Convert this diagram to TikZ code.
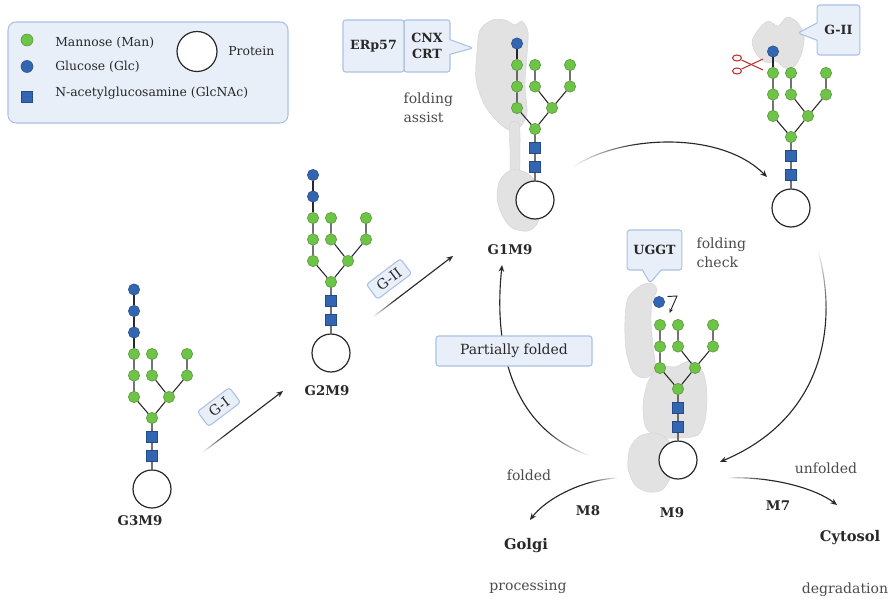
\documentclass[tikz,border=0pt]{standalone}
\usepackage{fontspec}
\setmainfont{DejaVu Serif}
\usetikzlibrary{arrows.meta,positioning,shapes.callouts,fadings}
\definecolor{verdeman}{RGB}{110,196,70}
\definecolor{azulglc}{RGB}{50,102,178}
\definecolor{fondocaja}{RGB}{233,239,249}
\definecolor{bordecaja}{RGB}{170,193,228}
\definecolor{tinta}{RGB}{40,40,40}
\definecolor{tintagris}{RGB}{75,75,75}
\definecolor{gristejido}{RGB}{226,226,226}
\definecolor{rojocorte}{RGB}{190,50,50}
% fade-in over the first third of a path
\pgfdeclarehorizontalshading{rampa}{100bp}{color(0bp)=(black); color(25bp)=(black); color(42bp)=(white); color(100bp)=(white)}
\tikzfading[name=entrada,shading=rampa]
\tikzset{
  manosa/.style={circle,fill=verdeman,draw=verdeman!75!black,line width=0.4pt,minimum size=8.5pt,inner sep=0pt},
  glucosa/.style={manosa,fill=azulglc,draw=azulglc!75!black},
  nag/.style={rectangle,fill=azulglc,draw=azulglc!75!black,line width=0.4pt,minimum size=8pt,inner sep=0pt},
  proteina/.style={circle,draw=tinta,line width=0.9pt,fill=white,minimum size=28.5pt,inner sep=0pt},
  enlace/.style={tinta,line width=0.8pt},
  tejido/.style={fill=gristejido,draw=gray!35,line width=0.3pt},
  nombre/.style={font=\bfseries\fontsize{10}{12}\selectfont,text=tinta,inner sep=1pt},
  nota/.style={font=\fontsize{10.5}{14}\selectfont,text=tintagris,align=left,inner sep=1pt},
  clave/.style={font=\fontsize{9.3}{11}\selectfont,text=tinta,anchor=west,inner sep=0pt},
  caja/.style={rectangle,rounded corners=2pt,fill=fondocaja,draw=bordecaja,line width=0.8pt,
    align=center,font=\bfseries\fontsize{9.5}{12}\selectfont,text=tinta,inner sep=2pt},
  burbuja/.style={caja,rectangle callout},
  etiqueta/.style={caja,font=\fontsize{10.5}{12}\selectfont,inner sep=3pt},
  flecha/.style={-{Stealth[length=5pt,width=4.2pt]},tinta,line width=0.85pt},
}
% glycan on a protein: #1 prefix, #2 protein centre, #3 glucoses on the A arm
\newcommand{\glycan}[3]{%
  \begin{scope}[shift={#2}]
    \node[proteina] (#1-p) at (0,0) {};
    \node[nag] (#1-n1) at (0,-33) {};
    \node[nag] (#1-n2) at (0,-52) {};
    \node[manosa] (#1-c) at (0,-71) {};
    \node[manosa] (#1-l1) at (-18,-92) {};
    \node[manosa] (#1-l2) at (-18,-113.5) {};
    \node[manosa,alias=#1-g0] (#1-l3) at (-18,-135) {};
    \node[manosa] (#1-r) at (17,-92) {};
    \node[manosa] (#1-ra1) at (0,-113.5) {};
    \node[manosa] (#1-ra2) at (0,-135) {};
    \node[manosa] (#1-rb1) at (35,-113.5) {};
    \node[manosa] (#1-rb2) at (35,-135) {};
    \ifnum#3>0
      \foreach \k [remember=\k as \j (initially 0)] in {1,...,#3} {
        \node[glucosa] (#1-g\k) at (-18,{-135-21.5*\k}) {};
        \draw[enlace] (#1-g\j) -- (#1-g\k);
      }
    \fi
  \end{scope}
  \draw[enlace] (#1-p) -- (#1-n1) -- (#1-n2) -- (#1-c) -- (#1-l1) -- (#1-l2) -- (#1-l3);
  \draw[enlace] (#1-c) -- (#1-r) -- (#1-ra1) -- (#1-ra2);
  \draw[enlace] (#1-r) -- (#1-rb1) -- (#1-rb2);
}

\begin{document}
\begin{tikzpicture}[x=0.75pt,y=-0.75pt]
  \useasboundingbox[fill=white] (0,0) rectangle (895,599);

  % legend
  \node[caja,rounded corners=6pt,minimum width=210pt,minimum height=75.75pt] (ley) at (148,72.5) {};
  \node[manosa,minimum size=9pt] (k-man) at (27,40) {};
  \node[glucosa,minimum size=9pt] (k-glc) at (27,66.5) {};
  \node[nag,minimum size=8.5pt] (k-nag) at (27,96.5) {};
  \node[clave] (t-man) at (55,43) {Mannose (Man)};
  \node[clave] (t-glc) at (55,67) {Glucose (Glc)};
  \node[clave] (t-nag) at (55,93) {N-acetylglucosamine (GlcNAc)};
  \node[proteina,minimum size=30pt] (k-prot) at (197,51.5) {};
  \node[clave] (t-prot) at (228,51.5) {Protein};

  % chaperones
  \draw[tejido] plot[smooth cycle] coordinates {(480,30) (492,20) (505,20) (515,25) (522,21) (528,32)
    (527,55) (525,85) (527,112) (521,126) (509,130) (497,121) (484,104) (476,80) (477,52)};
  \draw[tejido] plot[smooth cycle] coordinates {(510,124) (519,124) (520,150) (519,176) (511,176) (510,150)};
  \draw[tejido] plot[smooth cycle] coordinates {(500,180) (511,170) (525,172) (535,181) (540,201)
    (538,222) (528,231) (512,228) (502,215) (497,198)};
  \draw[tejido] plot[smooth cycle] coordinates {(758,30) (768,21) (778,26) (787,17) (797,22) (804,35)
    (802,52) (795,66) (785,68) (776,61) (767,63) (757,55) (752,42)};
  \draw[tejido] plot[smooth cycle] coordinates {(640,286) (651,283) (657,290) (652,302) (651,322)
    (653,346) (655,369) (645,378) (633,372) (626,350) (625,320) (628,298)};
  \draw[tejido] plot[smooth cycle] coordinates {(660,366) (675,367) (690,361) (703,372) (707,395)
    (705,420) (698,435) (680,438) (660,437) (646,428) (643,405) (648,382)};
  \draw[tejido] plot[smooth cycle] coordinates {(640,436) (655,433) (668,440) (672,460) (670,478)
    (662,490) (648,492) (635,485) (628,468) (630,448)};

  % glycoproteins
  \glycan{g3}{(152,489)}{3}
  \glycan{g2}{(331,353)}{2}
  \glycan{g1}{(535,200)}{1}
  \glycan{gt}{(791,208)}{1}
  \glycan{m9}{(678,460)}{0}
  \node[glucosa] (m9-x) at (659,302) {};
  \coordinate (m9-ini) at (667.5,296.5);
  \coordinate (m9-giro) at (677,296);
  \coordinate (m9-baja) at (669.5,313);
  \draw[-{Stealth[length=3.5pt,width=3pt]},tinta,line width=0.7pt] (m9-ini) -- (m9-giro) -- (m9-baja);

  % scissors
  \begin{scope}[rojocorte,line width=0.8pt]
    \draw (737,58) ellipse (4.5 and 3);
    \draw (737,71) ellipse (4.5 and 3);
    \draw (741.5,60) -- (763,70);
    \draw (741.5,69) -- (763,59);
  \end{scope}

  % trimming steps
  \coordinate (gi-a) at (190,462);
  \coordinate (gi-b) at (283,391);
  \coordinate (gii-a) at (360,327);
  \coordinate (gii-b) at (453,256);
  \draw[flecha,path fading=entrada,fading angle=37] (gi-a) -- (gi-b);
  \draw[flecha,path fading=entrada,fading angle=37] (gii-a) -- (gii-b);
  \node[etiqueta,rotate=37,minimum width=30pt] (t-gi) at (219,407) {G-I};
  \node[etiqueta,rotate=37,minimum width=32pt] (t-gii) at (389,279) {G-II};

  % cycle
  \coordinate (ci-a) at (573,167);
  \coordinate (ci-b) at (767,177);
  \coordinate (cd-a) at (818,250);
  \coordinate (cd-b) at (720,462);
  \coordinate (cz-a) at (620,463);
  \coordinate (cz-b) at (502,265);
  \draw[flecha,path fading=entrada] (ci-a) .. controls (620,135) and (720,130) .. (ci-b);
  \draw[flecha,path fading=entrada,fading angle=-90] (cd-a) .. controls (840,330) and (820,420) .. (cd-b);
  \draw[flecha,path fading=entrada,fading angle=135] (cz-a) .. controls (500,445) and (495,330) .. (cz-b);
  \node[etiqueta,minimum width=117pt,minimum height=22.5pt] (pf) at (514,351) {Partially folded};

  % exits
  \coordinate (sa-a) at (617,478);
  \coordinate (sa-b) at (530,520);
  \coordinate (sb-a) at (727,478);
  \coordinate (sb-b) at (837,505);
  \draw[flecha,path fading=entrada,fading angle=180] (sa-a) .. controls (580,480) and (545,500) .. (sa-b);
  \draw[flecha,path fading=entrada] (sb-a) .. controls (770,476) and (815,488) .. (sb-b);

  % callouts
  \node[burbuja,minimum width=34.5pt,minimum height=39pt,callout absolute pointer={(473,48)},
    callout pointer width=11pt] (cnx) at (427,46) {CNX\\CRT};
  \node[caja,minimum width=45.75pt,minimum height=39pt,left=-0.8pt of cnx] (erp) {ERp57};
  \node[burbuja,minimum width=32pt,minimum height=37.5pt,callout absolute pointer={(798,33)},
    callout pointer width=13pt] (gii) at (838.5,30) {G-II};
  \node[burbuja,minimum width=41pt,minimum height=30pt,callout absolute pointer={(650,283)},
    callout pointer width=14pt] (uggt) at (654.5,250) {UGGT};

  % labels
  \node[nombre] (n-g3) at (140,521) {G3M9};
  \node[nombre] (n-g2) at (327,391) {G2M9};
  \node[nombre] (n-g1) at (510,250) {G1M9};
  \node[nombre] (n-m9) at (672,513) {M9};
  \node[nombre] (n-m8) at (588,511) {M8};
  \node[nombre] (n-m7) at (778,506) {M7};
  \node[nombre,font=\bfseries\fontsize{11}{13}\selectfont] (golgi) at (526,546) {Golgi};
  \node[nombre,font=\bfseries\fontsize{11}{13}\selectfont] (cito) at (850,538) {Cytosol};
  \node[nota,anchor=west] (asist) at (402,107.5) {folding\\assist};
  \node[nota,anchor=west] (revis) at (695,253) {folding\\check};
  \node[nota] (pleg) at (529,475) {folded};
  \node[nota] (despleg) at (826,468) {unfolded};
  \node[nota] (proc) at (528,587) {processing};
  \node[nota] (degr) at (845,590) {degradation};
\end{tikzpicture}
\end{document}
